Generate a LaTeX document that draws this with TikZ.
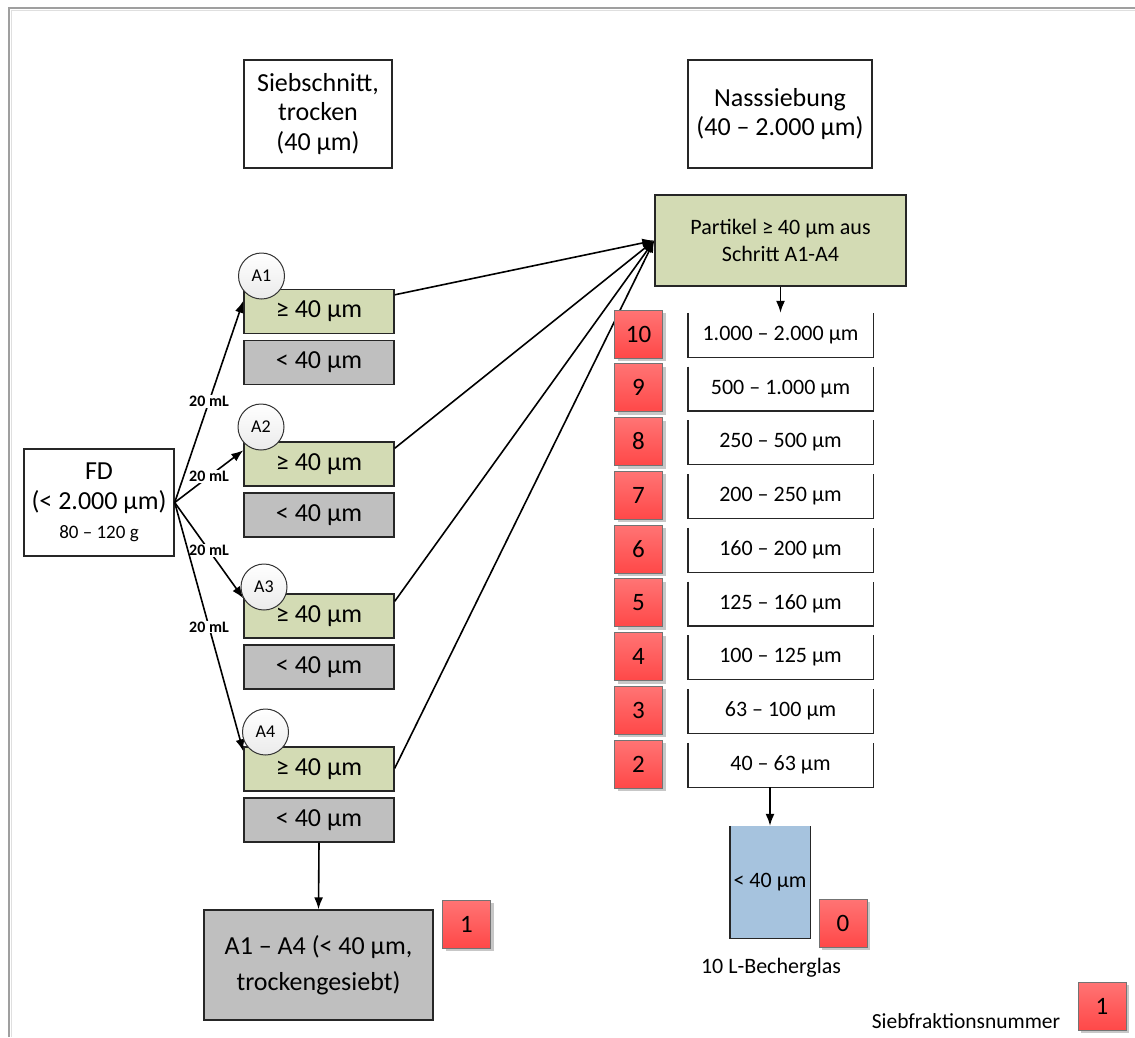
\documentclass[tikz,border=0pt]{standalone}
\usepackage{fontspec}
\setmainfont{Carlito}
\usetikzlibrary{arrows.meta, positioning, shadows}

\definecolor{gruen}{HTML}{D3DBB4}
\definecolor{grau}{HTML}{BFBFBF}
\definecolor{blau}{HTML}{A6C3DE}
\definecolor{rothell}{HTML}{FF7474}
\definecolor{rotdunkel}{HTML}{FF4848}

\begin{document}
\begin{tikzpicture}[x=1pt,y=-1pt,
    kasten/.style={draw=black!85, line width=1.4pt, align=center, inner sep=0pt},
    gross/.style={font=\fontsize{26}{29.5}\selectfont},
    mittel/.style={font=\fontsize{22}{27}\selectfont},
    kopf/.style={kasten, gross, fill=white, minimum height=108pt},
    grob/.style={kasten, gross, fill=gruen, minimum width=150pt, minimum height=44pt},
    fein/.style={kasten, gross, fill=grau, minimum width=150pt, minimum height=44pt},
    probe/.style={circle, draw=black!80, line width=1pt, top color=white, bottom color=black!8, minimum size=46pt, inner sep=0pt, font=\fontsize{18}{18}\selectfont},
    nummer/.style={draw=black!55, line width=1pt, top color=rothell, bottom color=rotdunkel, minimum size=48pt, inner sep=0pt, font=\fontsize{25}{25}\selectfont, drop shadow={shadow xshift=3pt, shadow yshift=-3pt, fill=black!22, opacity=1}},
    sieb/.style={mittel, minimum width=185pt, minimum height=44pt, inner sep=0pt},
    menge/.style={fill=white, inner sep=1pt, font=\bfseries\fontsize{16}{16}\selectfont},
    pfeil/.style={-{Latex[length=12pt,width=9pt]}, line width=1.6pt}
]
    \fill[white] (0,0) rectangle (1135,1037);
    \useasboundingbox (0,0) rectangle (1135,1037);
    \draw[gray!75, line width=2pt] (9,1037) -- (9,7.5) -- (1135,7.5);
    \draw[gray!25, line width=1pt] (11.5,1037) -- (11.5,10) -- (1135,10);

    \node[kopf, minimum width=148pt] (trocken) at (318,114) {Siebschnitt,\\trocken\\(40 µm)};
    \node[kopf, minimum width=184pt] (nass) at (780,114) {Nasssiebung\\(40 – 2.000 µm)};
    \node[kasten, mittel, fill=gruen, minimum width=251pt, minimum height=91pt] (partikel) at (780.5,240.5) {Partikel ≥ 40 µm aus\\Schritt A1-A4};

    \node[kasten, gross, minimum width=150pt, minimum height=107pt] (fd) at (99,502.5) {FD\\(< 2.000 µm)\\{\fontsize{19}{19}\selectfont 80 – 120 g}};

    \foreach \n/\y in {1/311.5, 2/464, 3/616, 4/769} {
        \node[grob] (g\n) at (319,\y) {≥ 40 µm};
        \node[fein] (k\n) at (319,\y+51) {< 40 µm};
    }
    \foreach \n/\d in {1/12, 2/9, 3/5, 4/5}
        \draw[pfeil] (fd.east) -- ([yshift=-\d pt]g\n.north west) node[menge, midway] {20 mL};
    \foreach \n/\x/\y in {1/261.5/276, 2/261/427, 3/264/587, 4/265.5/732}
        \node[probe] (a\n) at (\x,\y) {A\n};
    \foreach \n/\d in {1/6, 2/7, 3/8, 4/22}
        \draw[pfeil] ([yshift=-\d pt]g\n.north east) -- (partikel.west);

    \node[kasten, fill=grau, minimum width=229pt, minimum height=110pt, font=\fontsize{26}{36}\selectfont] (rest) at (318.5,965) {A1 – A4 (< 40 µm,\\trockengesiebt)};
    \node[nummer] (n1) at (466.5,924) {1};
    \draw[pfeil] (k4.south) -- (rest.north);

    \foreach \nr/\lbl [count=\i from 0] in {10/{1.000 – 2.000 µm}, 9/{500 – 1.000 µm}, 8/{250 – 500 µm}, 7/{200 – 250 µm}, 6/{160 – 200 µm}, 5/{125 – 160 µm}, 4/{100 – 125 µm}, 3/{63 – 100 µm}, 2/{40 – 63 µm}} {
        \node[sieb] (s\nr) at (780.5,335+53.75*\i) {\lbl};
        \draw[kasten] (s\nr.north west) -- (s\nr.south west) -- (s\nr.south east) -- (s\nr.north east);
        \node[nummer] (n\nr) at (638.5,334+53.75*\i) {\nr};
    }
    \draw[pfeil] (partikel.south) -- (s10.north);

    \node[mittel, fill=blau, minimum width=80pt, minimum height=112pt, inner sep=0pt] (becher) at (770,882) {< 40 µm};
    \draw[kasten] (becher.north west) -- (becher.south west) -- (becher.south east) -- (becher.north east);
    \draw[pfeil] (becher.north |- s2.south) -- (becher.north);
    \node[nummer] (n0) at (843,923) {0};
    \node[mittel] (glas) at (771,968) {10 L-Becherglas};

    \node[font=\fontsize{21.5}{21.5}\selectfont] (legende) at (966,1021) {Siebfraktionsnummer};
    \node[nummer] (nlegende) at (1102,1006) {1};
\end{tikzpicture}
\end{document}
